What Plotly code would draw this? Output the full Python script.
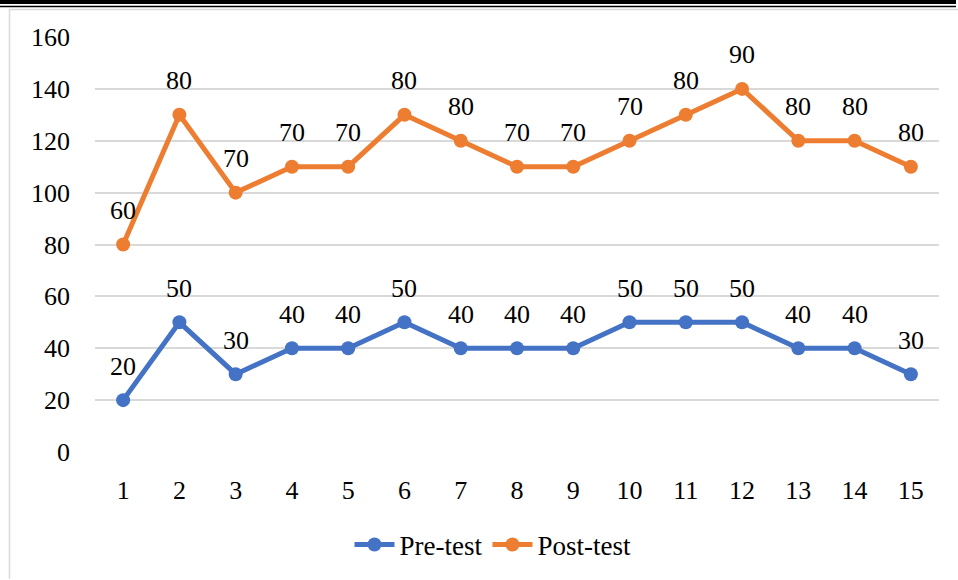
import plotly.graph_objects as go

students = [str(i) for i in range(1, 16)]
pre_test = [20, 50, 30, 40, 40, 50, 40, 40, 40, 50, 50, 50, 40, 40, 30]
post_test = [60, 80, 70, 70, 70, 80, 80, 70, 70, 70, 80, 90, 80, 80, 80]
y_ticks = [0, 20, 40, 60, 80, 100, 120, 140, 160]

BLUE = "#4472C4"
ORANGE = "#ED7D31"
FONT = "Liberation Serif"

W, H = 958, 580
L, R, T, B = 95, 19, 37, 127
PW, PH = W - L - R, H - T - B

def px(x):
    return (x - L) / PW

def py(y):
    return (H - B - y) / PH

fig = go.Figure()
fig.add_trace(go.Scatter(x=students, y=pre_test, name="Pre-test", mode="lines+markers",
                         stackgroup="one", fill="none",
                         line=dict(color=BLUE, width=5), marker=dict(color=BLUE, size=14)))
fig.add_trace(go.Scatter(x=students, y=post_test, name="Post-test", mode="lines+markers",
                         stackgroup="one", fill="none",
                         line=dict(color=ORANGE, width=5), marker=dict(color=ORANGE, size=14)))

annotations = []
post_stacked = [a + b for a, b in zip(pre_test, post_test)]
for i in range(len(students)):
    for v, ys in ((pre_test[i], pre_test[i]), (post_test[i], post_stacked[i])):
        annotations.append(dict(x=i, y=ys, text=str(v), showarrow=False, yshift=34,
                                xanchor="center", yanchor="middle",
                                font=dict(family=FONT, size=26, color="#000000")))

shapes = [
    dict(type="line", xref="paper", yref="paper", x0=px(0), x1=px(956), y0=py(2), y1=py(2),
         line=dict(color="#000000", width=4)),
    dict(type="line", xref="paper", yref="paper", x0=px(0), x1=px(956), y0=py(6.5), y1=py(6.5),
         line=dict(color="#000000", width=1.5)),
    dict(type="line", xref="paper", yref="paper", x0=px(9.5), x1=px(9.5), y0=py(9), y1=py(580),
         line=dict(color="#D9D9D9", width=1.5)),
    dict(type="line", xref="paper", yref="paper", x0=px(9.5), x1=px(958), y0=py(9.5), y1=py(9.5),
         line=dict(color="#D9D9D9", width=1.5)),
]

fig.update_layout(
    width=W, height=H,
    margin=dict(l=L, r=R, t=T, b=B),
    paper_bgcolor="white", plot_bgcolor="white",
    font=dict(family=FONT, size=26, color="#000000"),
    showlegend=True,
    legend=dict(orientation="h", x=px(493), xanchor="center", y=py(545), yanchor="middle",
                font=dict(family=FONT, size=27), itemwidth=40, traceorder="normal"),
    annotations=annotations,
    shapes=shapes,
    xaxis=dict(type="category", range=[-0.5, len(students) - 0.5], showgrid=False, showline=False,
               zeroline=False, ticks="", ticklabelstandoff=20, tickfont=dict(family=FONT, size=26)),
    yaxis=dict(range=[0, 160], tickvals=y_ticks, showgrid=True, gridcolor="#D9D9D9", gridwidth=1.5,
               zeroline=False, showline=False, ticks="", ticklabelstandoff=24,
               tickfont=dict(family=FONT, size=26)),
)

fig.write_html("out.html", config={"displayModeBar": False},
               post_script="document.body.style.margin='0';")
